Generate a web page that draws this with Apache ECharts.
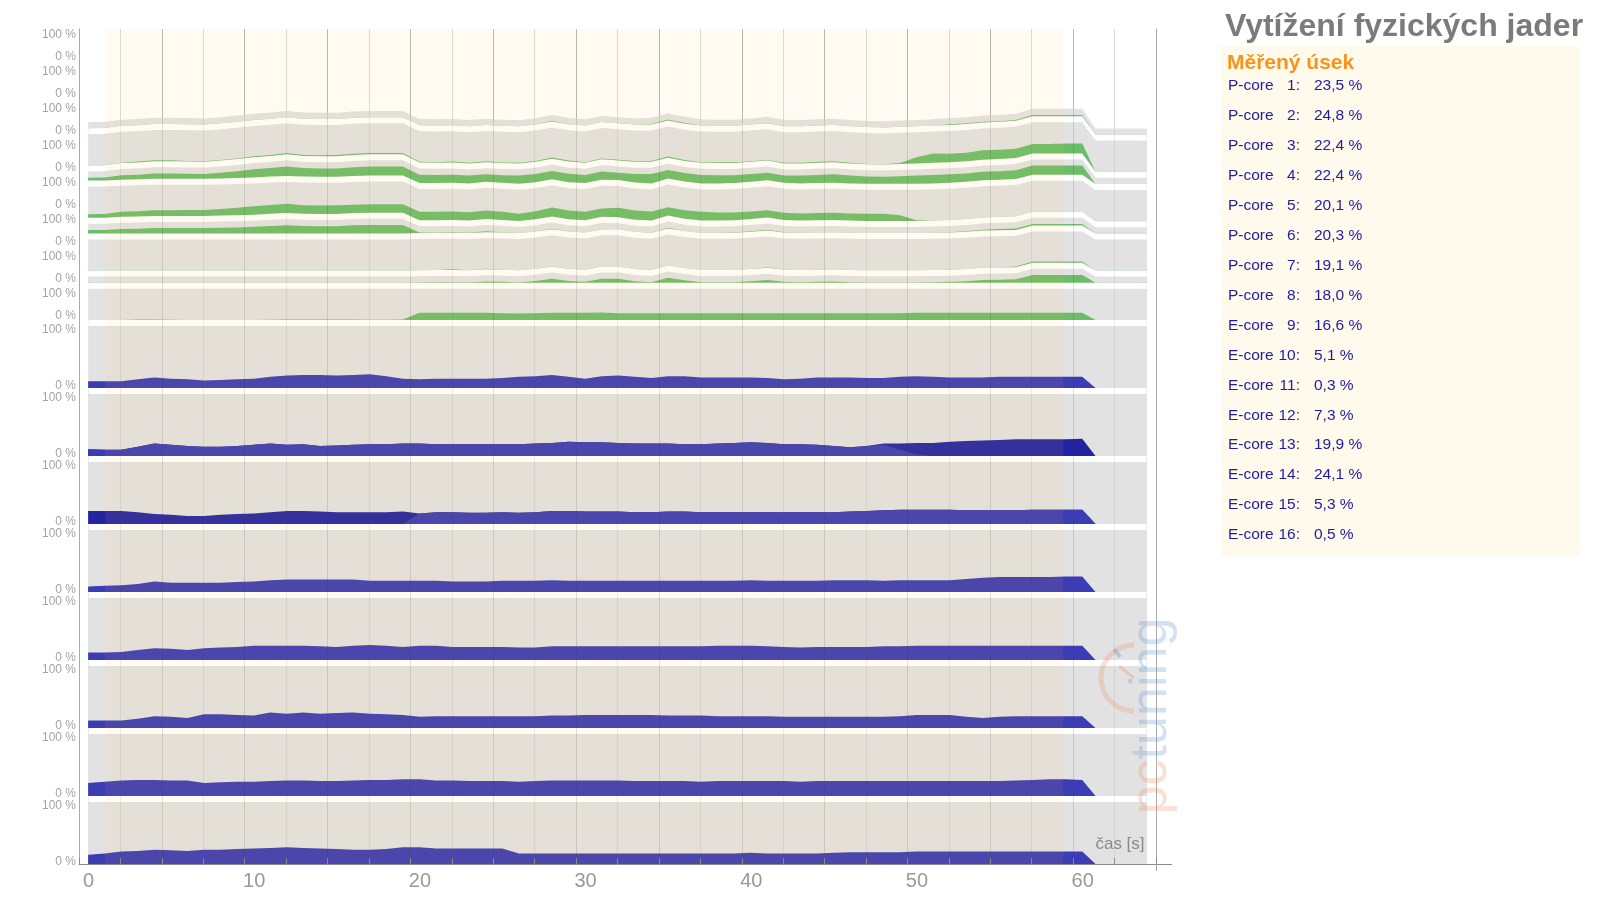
<!DOCTYPE html>
<html><head><meta charset="utf-8">
<script src="https://cdn.jsdelivr.net/npm/echarts@6.0.0/dist/echarts.min.js"></script>
<style>html,body{margin:0;padding:0;background:#fff;}#chart{width:1599px;height:897px;}</style>
</head><body><div id="chart"></div>
<script>
// ---------------- data ----------------
// sample times (s): one reading per second, starting at 0.55 s
const times = Array.from({length: 61}, (_, i) => Math.round((0.55 + i) * 100) / 100);
const endTime = 61.35;     // load falls to zero
const bgEndTime = 64.45;   // end of the drawn bands
const measuredFrom = 1.57; // "Měřený úsek"
const measuredTo = 59.4;

// load in % per sample
const pCore1 = [0,0,0,0,0,0,0,0,0,0, 0,0,0,0,0,0,0,0,0,0, 0,0,0,0,0,0,0,0,2,0, 0,0,0,0,2,3,2,0,0,0, 0,1,0,0,0,0,0,0,0,0, 0,0,2,2,2,2,3,4,4,4, 4];
const pCore2 = [0,0,1,3,3,3,2,2,2,2, 3,3,4,3,3,4,4,4,4,4, 2,2,3,2,3,2,2,3,4,3, 2,3,3,3,3,4,3,2,3,3, 2,2,2,2,3,3,2,1,1,3, 20,30,27,27,30,30,30,30,30,32, 32];
const pCore3 = [9,10,14,15,17,17,16,15,18,22, 26,27,30,27,27,27,28,29,29,29, 27,26,26,25,24,24,26,26,27,27, 26,26,23,27,30,27,27,27,26,25, 25,24,23,25,26,27,25,23,22,24, 26,27,27,27,27,27,28,29,29,29, 29];
const pCore4 = [11,12,16,17,18,18,19,19,21,24, 27,28,30,27,27,28,27,27,27,27, 27,27,27,27,27,26,23,26,29,28, 27,27,30,29,29,27,27,28,26,25, 24,23,23,23,23,23,23,23,23,18, 2,0,0,0,0,0,0,0,0,0, 0];
const pCore5 = [11,11,14,15,17,17,17,17,18,19, 21,24,26,24,23,23,26,27,27,27, 2,1,2,1,3,1,0,0,2,0, 0,1,0,0,0,2,0,0,0,1, 2,3,1,0,0,0,0,0,0,0, 0,0,1,2,3,4,5,5,5,5, 5];
const pCore6 = [0,0,0,0,0,0,0,0,0,0, 0,0,0,0,0,0,0,0,0,0, 0,0,2,0,2,0,0,0,1,0, 0,0,0,0,0,0,0,0,0,0, 0,2,0,0,0,0,0,0,0,0, 0,0,0,0,0,0,2,4,4,4, 4];
const pCore7 = [0,0,0,0,0,0,0,0,0,0, 0,0,0,0,0,0,0,0,0,0, 1,2,2,1,4,3,1,6,13,6, 3,13,13,5,2,16,8,2,2,2, 5,9,3,2,3,4,2,1,1,1, 1,2,3,5,9,10,11,25,25,25, 25];
const pCore8 = [0,0,0,2,2,1,0,0,0,0, 0,1,2,2,2,2,2,1,1,2, 23,23,23,23,23,22,21,22,23,23, 23,24,22,22,22,22,22,22,22,22, 22,22,22,22,22,22,22,22,22,22, 23,23,23,23,23,23,23,23,23,23, 23];

const eCore9  = [11,11,11,14,17,15,14,12,13,14, 15,18,20,21,21,20,21,22,19,15, 14,15,15,15,15,16,18,19,21,18, 15,19,20,18,16,19,19,17,17,17, 17,16,14,15,17,17,17,16,16,18, 19,18,17,17,17,18,18,18,18,18, 18];
const eCore10 = [11,10,10,15,20,18,16,15,15,16, 18,20,18,19,16,17,18,19,19,20, 20,19,19,19,19,19,19,20,21,23, 22,22,21,20,20,20,19,19,20,21, 22,21,19,19,18,16,14,16,18,10, 3,0,0,0,0,0,0,0,0,0, 0];
const eCore10b= [0,0,0,0,0,0,0,0,0,0, 0,0,0,0,0,0,0,0,0,0, 0,0,0,0,0,0,0,0,0,0, 0,0,0,0,0,0,0,0,0,0, 0,0,0,0,0,0,0,0,2,10, 18,21,23,24,25,26,27,27,27,27, 28];
const eCore11 = [0,0,0,0,0,0,0,0,0,0, 0,0,0,0,0,0,0,0,0,0, 17,19,19,18,18,19,18,19,21,21, 20,20,20,19,19,20,20,19,19,19, 19,19,19,19,19,19,20,21,22,23, 23,23,23,22,22,22,22,23,23,23, 23];
const eCore11b= [21,21,21,19,16,15,13,13,15,16, 17,19,21,21,20,19,19,19,19,20, 0,0,0,0,0,0,0,0,0,0, 0,0,0,0,0,0,0,0,0,0, 0,0,0,0,0,0,0,0,0,0, 0,0,0,0,0,0,0,0,0,0, 0];
const eCore12 = [9,10,11,13,17,15,15,15,15,16, 17,19,20,20,20,20,20,18,18,18, 18,18,17,17,17,18,18,18,19,18, 18,18,18,18,18,18,18,18,18,18, 19,18,18,18,18,19,19,19,18,19, 19,19,19,21,23,24,24,24,24,25, 25];
const eCore13 = [12,12,13,16,19,18,16,19,20,21, 23,23,23,23,22,21,23,24,23,21, 23,23,21,21,21,21,20,20,22,22, 22,22,22,22,22,22,22,22,23,23, 23,22,21,20,21,21,21,21,22,22, 23,23,23,23,23,23,23,23,23,23, 23];
const eCore14 = [12,12,12,15,19,18,16,22,22,21, 20,25,23,25,23,24,25,23,22,21, 18,19,19,19,19,19,19,19,20,20, 21,21,21,21,21,20,20,20,19,19, 19,19,18,18,18,18,18,18,18,19, 21,21,21,18,16,18,19,19,19,19, 19];
const eCore15 = [21,23,25,26,26,25,25,21,22,23, 23,24,25,25,24,24,25,26,26,27, 27,25,25,24,24,24,23,24,25,25, 25,25,25,24,24,24,24,23,24,24, 24,24,24,23,24,24,24,24,24,24, 24,24,24,24,24,24,25,26,27,27, 26];
const eCore16 = [15,17,20,21,23,22,21,23,23,24, 25,26,27,26,25,24,23,23,24,27, 27,25,25,25,25,25,17,17,17,17, 17,17,17,17,17,17,17,17,17,17, 18,17,17,17,17,18,19,19,19,19, 20,20,20,20,20,20,20,20,20,20, 20];

// legend (average over the measured section)
const coreKinds   = ['P-core','P-core','P-core','P-core','P-core','P-core','P-core','P-core','E-core','E-core','E-core','E-core','E-core','E-core','E-core','E-core'];
const coreNumbers = [1,2,3,4,5,6,7,8,9,10,11,12,13,14,15,16];
const coreAverages= ['23,5 %','24,8 %','22,4 %','22,4 %','20,1 %','20,3 %','19,1 %','18,0 %','16,6 %','5,1 %','0,3 %','7,3 %','19,9 %','24,1 %','5,3 %','0,5 %'];
const xTickStep = 5;
const xLabelStep = 10;
const yTickTexts = ['100 %', '0 %'];
const titleText = 'Vytížení fyzických jader';
const legendTitle = 'Měřený úsek';
const axisName = 'čas [s]';

// ---------------- layout / style ----------------
const GRID = {left: 79, top: 29, width: 1077, height: 835};
const X_MAX = 65;
const E_H = 62, GAP = 6, P_BIG = 31.2, P_SMALL = 6.2, P_SLOT = 37, E_SLOT = E_H + GAP;
const BLUE = '#3c3cb4', DARK = '#2424a3', GREEN = '#6cbd68', GRAY = '#e2e2e2', WHITE = '#ffffff';
const FONT = '"Liberation Sans", Arial, sans-serif';

const pCores = [pCore1,pCore2,pCore3,pCore4,pCore5,pCore6,pCore7,pCore8];
const eCores = [eCore9,eCore10,eCore11,eCore12,eCore13,eCore14,eCore15,eCore16];
const eSecond = {10: eCore10b, 11: eCore11b};

// layers, bottom to top
const layers = [];
function push(name, color, px, tail) { layers.push({name, color, px, tail}); }
for (let k = 7; k >= 0; k--) {
  const num = 9 + k;
  const main = eCores[k].map(v => v * E_H / 100);
  const sec = eSecond[num] ? eSecond[num].map(v => v * E_H / 100) : null;
  push('E-core ' + num, BLUE, main, 0);
  if (sec) push('E-core ' + num + ' b', DARK, sec, 0);
  push('bgE' + num, GRAY, main.map((b, i) => E_H - b - (sec ? sec[i] : 0)), E_H);
  push('gapE' + num, WHITE, main.map(() => GAP), GAP);
}
for (let j = 7; j >= 0; j--) {
  const big = (j % 2 === 1);
  const g = pCores[j].map(v => v * P_BIG / 100);
  push('P-core ' + (j + 1), GREEN, g, 0);
  push('bgP' + (j + 1), GRAY, big ? g.map(x => P_BIG - x) : g.map(() => P_SMALL), big ? P_BIG : P_SMALL);
  if (j > 0) push('gapP' + (j + 1), WHITE, g.map(() => GAP), GAP);
}
// cumulative tops (stacking done here), painted top layer first
let run = times.map(() => 0), runTail = 0;
layers.forEach(L => {
  run = run.map((r, i) => r + L.px[i]);
  runTail += L.tail;
  L.cum = run.slice();
  L.cumTail = runTail;
});
const series = layers.slice().reverse().map(L => ({
  type: 'line', name: L.name, symbol: 'none', showSymbol: false, silent: true,
  lineStyle: {width: 0}, areaStyle: {color: L.color, opacity: 1, origin: 'start'}, z: 2,
  data: times.map((t, i) => [t, L.cum[i]]).concat([[endTime, L.cumTail], [bgEndTime, L.cumTail]])
}));
series.push({
  type: 'line', data: [], z: 3, silent: true,
  markArea: {silent: true, z: 3, itemStyle: {color: 'rgba(255,198,84,0.075)'},
    data: [[{xAxis: measuredFrom}, {xAxis: measuredTo}]]}
});

// y labels ("100 %" / "0 %") for every panel
const yMax = GRID.height;
const yLabels = [];
for (let i = 0; i < 8; i++) {
  yLabels.push({v: yMax - 6 - P_SLOT * i, t: yTickTexts[0]});
  yLabels.push({v: yMax - P_BIG + 3.3 - P_SLOT * i, t: yTickTexts[1]});
}
const eTop = 8 * E_SLOT - GAP;
for (let k = 0; k < 8; k++) {
  yLabels.push({v: eTop - 4 - E_SLOT * k, t: yTickTexts[0]});
  yLabels.push({v: eTop - E_H + 2 - E_SLOT * k, t: yTickTexts[1]});
}
function yLabelText(v) {
  let best = yLabels[0];
  for (const l of yLabels) if (Math.abs(l.v - v) < Math.abs(best.v - v)) best = l;
  return best.t;
}

// legend graphics
const graphics = [
  {type: 'rect', shape: {x: 1221, y: 46, width: 359, height: 510}, style: {fill: '#fffaeb'}, silent: true},
  {type: 'text', x: 1225, y: 27, style: {text: titleText, font: 'bold 32px ' + FONT, fill: '#7b7b7b', textAlign: 'left', textVerticalAlign: 'middle', align: 'left', verticalAlign: 'middle'}},
  {type: 'text', x: 1227, y: 63, style: {text: legendTitle, font: 'bold 21px ' + FONT, fill: '#f7941d', textAlign: 'left', textVerticalAlign: 'middle', align: 'left', verticalAlign: 'middle'}}
];
coreKinds.forEach((kind, i) => {
  const y = 86 + 29.93 * i;
  const st = {font: '15.5px ' + FONT, fill: '#1d1da6', textVerticalAlign: 'middle', verticalAlign: 'middle'};
  graphics.push({type: 'text', x: 1228, y, style: Object.assign({text: kind, textAlign: 'left', align: 'left'}, st)});
  graphics.push({type: 'text', x: 1300, y, style: Object.assign({text: coreNumbers[i] + ':', textAlign: 'right', align: 'right'}, st)});
  graphics.push({type: 'text', x: 1314, y, style: Object.assign({text: coreAverages[i], textAlign: 'left', align: 'left'}, st)});
});
graphics.push({type: 'text', x: 1120, y: 844, z: 20, style: {text: axisName, font: '17px ' + FONT, fill: '#8a8a8a', textAlign: 'center', align: 'center', textVerticalAlign: 'middle', verticalAlign: 'middle'}});
graphics.push({type: 'line', shape: {x1: 1156, y1: 864.5, x2: 1172, y2: 864.5}, style: {stroke: '#8a8a8a', lineWidth: 1}, silent: true});
graphics.push({type: 'line', shape: {x1: 1156.5, y1: 864, x2: 1156.5, y2: 871}, style: {stroke: '#aaaaaa', lineWidth: 1}, silent: true});
// watermark
graphics.push({type: 'arc', z: 20, shape: {cx: 1134, cy: 678, r: 33, startAngle: Math.PI / 2, endAngle: Math.PI * 1.5, clockwise: true}, style: {stroke: 'rgba(240,150,115,0.3)', lineWidth: 5, fill: null}, silent: true});
graphics.push({type: 'line', z: 20, shape: {x1: 1134, y1: 678, x2: 1119, y2: 666}, style: {stroke: 'rgba(240,150,115,0.35)', lineWidth: 3}, silent: true});
graphics.push({type: 'line', z: 20, shape: {x1: 1114, y1: 649, x2: 1120, y2: 657}, style: {stroke: 'rgba(100,150,205,0.35)', lineWidth: 4}, silent: true});
graphics.push({type: 'text', z: 20, x: 1152, y: 716, rotation: Math.PI / 2, silent: true,
  style: {text: '{a|pc}{b|tuning}', textAlign: 'center', align: 'center', textVerticalAlign: 'middle', verticalAlign: 'middle',
    rich: {a: {font: '52px ' + FONT, fill: 'rgba(240,140,100,0.28)'}, b: {font: '52px ' + FONT, fill: 'rgba(95,150,210,0.28)'}}}});

const xLabelFmt = v => (v % xLabelStep === 0 && v < X_MAX) ? String(v) : '';
const chart = echarts.init(document.getElementById('chart'), null, {renderer: 'canvas'});
chart.setOption({
  animation: false,
  backgroundColor: '#ffffff',
  textStyle: {fontFamily: FONT},
  grid: Object.assign({containLabel: false}, GRID),
  xAxis: [{
    // grid lines under the bands (seen where nothing is drawn)
    type: 'value', min: 0, max: X_MAX, interval: xTickStep, z: 0, position: 'bottom',
    axisLine: {show: false}, axisTick: {show: false}, axisLabel: {show: false},
    splitLine: {show: true, lineStyle: {color: 'rgba(60,60,60,0.25)', width: 1}},
    minorTick: {show: false, splitNumber: 2},
    minorSplitLine: {show: true, lineStyle: {color: 'rgba(60,60,60,0.10)', width: 1}}
  }, {
    // axis + faint grid lines over the bands
    type: 'value', min: 0, max: X_MAX, interval: xTickStep, z: 4, position: 'bottom',
    axisLine: {show: true, onZero: false, lineStyle: {color: '#8a8a8a'}},
    axisTick: {show: true, inside: true, length: 6, lineStyle: {color: '#8a8a8a'}},
    minorTick: {show: true, splitNumber: 2, length: 6, lineStyle: {color: '#8a8a8a'}},
    splitLine: {show: true, lineStyle: {color: 'rgba(60,60,60,0.16)', width: 1}},
    minorSplitLine: {show: true, lineStyle: {color: 'rgba(60,60,60,0.085)', width: 1}},
    axisLabel: {fontSize: 20, color: '#999999', margin: 7, padding: [0, 0, 0, 19], formatter: xLabelFmt}
  }],
  yAxis: [{
    type: 'value', min: 0, max: yMax, z: 4,
    axisLine: {show: true, onZero: false, lineStyle: {color: '#aaaaaa'}},
    axisTick: {show: false}, splitLine: {show: false},
    axisLabel: {show: true, customValues: yLabels.map(l => l.v), formatter: v => yLabelText(v),
      fontSize: 12, color: '#a3a3a3', margin: 3}
  }, {
    type: 'value', min: 0, max: yMax, position: 'right', z: 4,
    axisLine: {show: true, onZero: false, lineStyle: {color: '#aaaaaa'}},
    axisTick: {show: false}, splitLine: {show: false}, axisLabel: {show: false}
  }],
  series: series,
  graphic: graphics
});
</script></body></html>
